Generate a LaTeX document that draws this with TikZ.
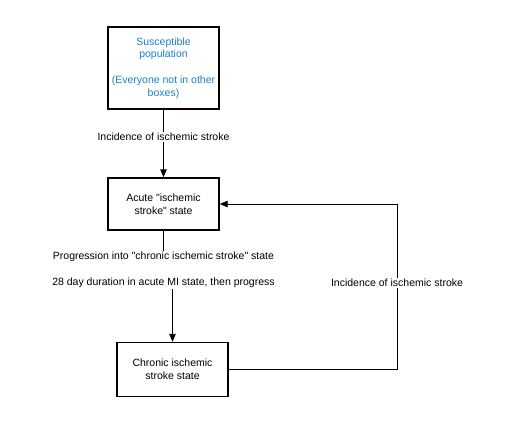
\documentclass[tikz,border=0pt]{standalone}
\usepackage{fontspec}
\setsansfont{Liberation Sans}[Ligatures=TeXOff]
\usetikzlibrary{arrows.meta,positioning}
\definecolor{StateBlue}{HTML}{1A80C8}

\begin{document}
\begin{tikzpicture}[x=1pt, y=-1pt, font=\sffamily\fontsize{10.5}{12.8}\selectfont, >={Triangle[length=8pt,width=6.5pt]},
  statebox/.style={draw, line width=1.4pt, minimum width=111pt, align=center, inner sep=0pt},
  edgelabel/.style={fill=white, inner sep=1pt, align=center}]
  \useasboundingbox (0,0) rectangle (511,429);

  \node[statebox, minimum height=82pt, text=StateBlue] (susc) at (163.5,68)
    {Susceptible\\population\\[12.8pt](Everyone not in other\\boxes)};
  \node[statebox, minimum height=52pt] (acute) at (163.5,204)
    {Acute "ischemic\\stroke" state};
  \node[statebox, minimum height=54pt] (chronic) at (172.5,369.5)
    {Chronic ischemic\\stroke state};

  \node[edgelabel] (inc) at (163.5,137) {Incidence of ischemic stroke};
  \node[edgelabel] (prog) at (163.5,257) {Progression into "chronic ischemic stroke" state};
  \node[edgelabel] (dur) at (163.5,283) {28 day duration in acute MI state, then progress};
  \node[edgelabel] (reinc) at (397,283) {Incidence of ischemic stroke};

  \draw[line width=0.9pt] (susc.south) -- (inc.north);
  \draw[line width=0.9pt, ->] (inc.south) -- (acute.north);
  \draw[line width=0.9pt] (acute.south) -- (prog.north);
  \draw[line width=0.9pt, ->] (dur.south -| chronic.north) -- (chronic.north);
  \draw[line width=0.9pt] (chronic.east) -| (reinc.south);
  \draw[line width=0.9pt, ->] (reinc.north) |- (acute.east);
\end{tikzpicture}
\end{document}
